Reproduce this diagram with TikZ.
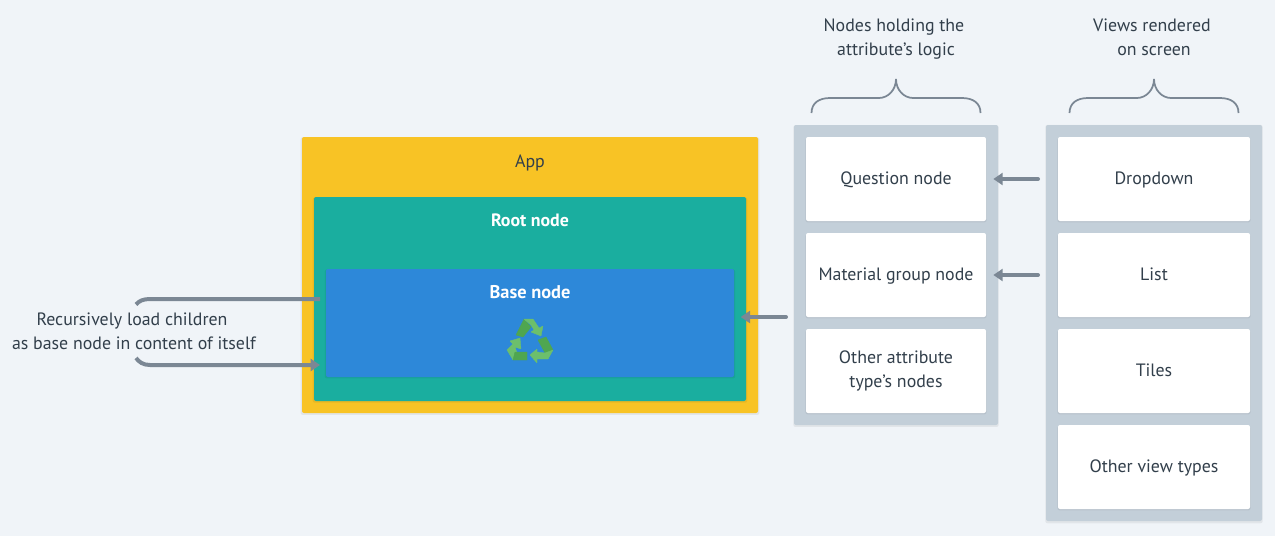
\documentclass[tikz,border=0pt]{standalone}
\usepackage{fontspec}
\setmainfont{PT Sans}
\usetikzlibrary{arrows.meta,shadows}
\definecolor{pagebg}{HTML}{F0F4F8}
\definecolor{ink}{HTML}{323F4B}
\definecolor{wire}{HTML}{7B8794}
\definecolor{appfill}{HTML}{F8C325}
\definecolor{rootfill}{HTML}{1AAE9F}
\definecolor{basefill}{HTML}{2D88D9}
\definecolor{colfill}{HTML}{C3CFD9}
\definecolor{leafdark}{HTML}{4FA650}
\definecolor{leaflight}{HTML}{6CBF6C}
\newcommand{\labelsize}{\fontsize{13.4}{18}\selectfont}
% Invisible upright that gives every text line the same height and depth
\newcommand{\linestrut}{\rule[-4.7pt]{0pt}{18pt}}
\tikzset{
  x=0.75pt, y=-0.75pt,
  panel/.style={rounded corners=1.5pt, inner sep=0pt, outer sep=0pt,
    general shadow={fill=black, opacity=0.06, shadow xshift=0pt, shadow yshift=-0.8pt, shadow scale=1.006}},
  struts/.style={execute at begin node=\linestrut},
  cell/.style={panel, fill=white, minimum width=135pt, minimum height=63pt,
    font=\labelsize, text=ink, align=center, struts},
  viewcell/.style={cell, minimum width=144pt},
  caption/.style={font=\labelsize, text=ink, align=center, inner sep=0pt, struts},
  flow/.style={draw=wire, line width=3pt, line cap=round,
    -{Triangle[length=7pt,width=9pt]}},
  brace/.style={draw=wire, line width=1.3pt},
  leaf/.style={line width=0.3pt, line join=round},
  curly/.style={insert path={
    ++(-84.5,34) .. controls +(0,-10) and +(-11,0) .. ++(18.5,-15)
    -- ++(49,0) .. controls +(9,0) and +(0,11) .. ++(17,-19)
    .. controls +(0,11) and +(-9,0) .. ++(17,19)
    -- ++(49,0) .. controls +(11,0) and +(0,-10) .. ++(18.5,15)}},
}
\begin{document}
\begin{tikzpicture}
\useasboundingbox[fill=pagebg] (0,0) rectangle (1275,536);

% Nested application containers
\node[panel, fill=appfill, minimum width=342pt, minimum height=207pt] (app) at (530,275) {};
\node[panel, fill=rootfill, minimum width=324pt, minimum height=153pt] (root) at (530,299) {};
\node[panel, fill=basefill, minimum width=306pt, minimum height=81pt] (base) at (530,323) {};
\node[caption] (applabel) at (530,162) {App};
\node[caption, text=white, font=\labelsize\bfseries] (rootlabel) at (530,221) {Root node};
\node[caption, text=white, font=\fontsize{13.8}{18}\selectfont\bfseries] (baselabel) at (530,293) {Base node};

% Recycling symbol inside the base node
\begin{scope}[shift={(500,312)}]
  \filldraw[leaf, draw=leafdark, fill=leafdark] (16,23) -- (24,7) -- (31,15) -- (23,25) -- cycle;
  \filldraw[leaf, draw=leaflight, fill=leaflight] (24,7) -- (33,7) -- (39,16) -- (43,14) -- (41,24) -- (31,20) -- (34,18) -- (31,13) -- cycle;
  \filldraw[leaf, draw=leafdark, fill=leafdark] (38,28) -- (46,25) -- (53,38) -- (45,41) -- cycle;
  \filldraw[leaf, draw=leaflight, fill=leaflight] (53,38) -- (48,47) -- (37,47) -- (37,51) -- (30,43) -- (37,37) -- (37,40) -- (45,41) -- cycle;
  \filldraw[leaf, draw=leaflight, fill=leaflight] (7,38) -- (13,48) -- (17,41) -- (15,35) -- (21,37) -- (20,26) -- (10,29) -- (13,32) -- cycle;
  \filldraw[leaf, draw=leafdark, fill=leafdark] (15,40) -- (27,40) -- (27,48) -- (13,48) -- cycle;
\end{scope}

% Logic node column
\node[panel, fill=colfill, minimum width=153pt, minimum height=225pt] (logiccol) at (896,275) {};
\node[cell] (question) at (896,179) {Question node};
\node[cell] (material) at (896,275) {Material group node};
\node[cell] (otherattr) at (896,371) {\raisebox{-1.7pt}{Other attribute}\\\linestrut\raisebox{-1.7pt}{type’s nodes}};

% View column
\node[panel, fill=colfill, minimum width=162pt, minimum height=297pt] (viewcol) at (1154,323) {};
\node[viewcell] (dropdown) at (1154,179) {Dropdown};
\node[viewcell] (list) at (1154,275) {List};
\node[viewcell] (tiles) at (1154,371) {Tiles};
\node[viewcell] (otherview) at (1154,467) {Other view types};

% Column headings and their braces
\node[caption] (logichead) at (896,40) {Nodes holding the\kern3pt\\\linestrut attribute’s logic};
\node[caption] (viewhead) at (1154,40) {Views rendered\kern3pt\\\linestrut on screen};
\coordinate (logicbrace) at (896,79);
\coordinate (viewbrace) at (1154,79);
\draw[brace] (logicbrace) [curly];
\draw[brace] (viewbrace) [curly];

% Arrows between columns
\draw[flow, shorten <=6pt, shorten >=-3.5pt] (viewcol.west |- dropdown.west) -- (logiccol.east |- question.east);
\draw[flow, shorten <=6pt, shorten >=-3.5pt] (viewcol.west |- list.west) -- (logiccol.east |- material.east);
\draw[flow, shorten <=6pt, shorten >=5pt] ([yshift=-31.5pt]logiccol.west) -- ([yshift=-31.5pt]logiccol.west -| base.east);

% Recursive loading loop
\node[caption] (recursion) at (134,334) {Recursively load children\kern3pt\\\linestrut as base node in content of itself};
\coordinate (loopin) at (136,304.5);
\coordinate (loopout) at (136,358);
\coordinate (basetop) at (base.west |- 0,299);
\coordinate (basebottom) at (base.west |- 0,365);
\draw[draw=wire, line width=3pt, shorten >=4.5pt] (loopin) .. controls (139,301) and (143,299) .. (150,299) -- (basetop);
\draw[flow, line cap=butt, shorten >=4.5pt] (loopout) .. controls (139,362) and (143,365) .. (150,365) -- (basebottom);
\end{tikzpicture}
\end{document}
